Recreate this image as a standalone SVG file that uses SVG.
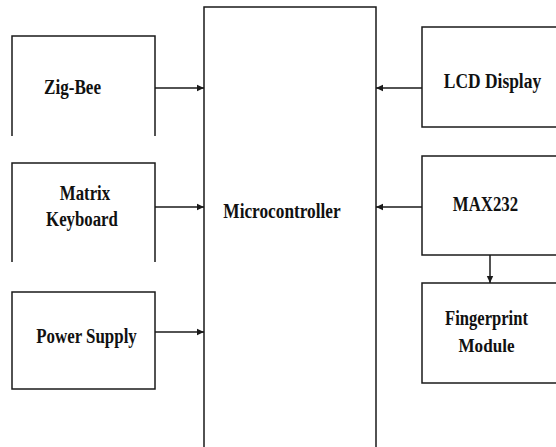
<svg xmlns="http://www.w3.org/2000/svg" width="556" height="447" viewBox="0 0 556 447">
<style>
.box{fill:none;stroke:#1a1a1a;stroke-width:1.5}
.conn{fill:none;stroke:#1a1a1a;stroke-width:1.5}
.lbl{font-family:'Liberation Serif','DejaVu Serif',serif;font-weight:700;font-size:21px;fill:#111;text-anchor:middle}
</style>
<defs>
<marker id="ah" markerWidth="8" markerHeight="8" refX="7" refY="4" orient="auto" markerUnits="userSpaceOnUse">
<path d="M0,0.8 L7,4 L0,7.2 Z" fill="#1a1a1a"/>
</marker>
</defs>
<rect width="556" height="447" fill="#fff"/>
<g id="zigbee">
<path class="box" d="M12,136 V36 H155 V136"/>
<text class="lbl" transform="translate(72.5,94) scale(0.815,1)">Zig-Bee</text>
</g>
<g id="keyboard">
<path class="box" d="M12,262 V163 H155 V262"/>
<text class="lbl" transform="translate(85,200) scale(0.8,1)">Matrix</text>
<text class="lbl" transform="translate(82,226) scale(0.8,1)">Keyboard</text>
</g>
<g id="power">
<rect class="box" x="12" y="292" width="143" height="97"/>
<text class="lbl" transform="translate(86.5,343) scale(0.805,1)">Power Supply</text>
</g>
<g id="mcu">
<path class="box" d="M204,450 V7 H376 V450"/>
<text class="lbl" transform="translate(282,218) scale(0.823,1)">Microcontroller</text>
</g>
<g id="lcd">
<rect class="box" x="422" y="27" width="140" height="100"/>
<text class="lbl" transform="translate(492.5,88) scale(0.83,1)">LCD Display</text>
</g>
<g id="max232">
<rect class="box" x="422" y="156" width="140" height="99"/>
<text class="lbl" transform="translate(485.5,211) scale(0.8,1)">MAX232</text>
</g>
<g id="fingerprint">
<rect class="box" x="422" y="283" width="140" height="100"/>
<text class="lbl" transform="translate(486.5,325) scale(0.79,1)">Fingerprint</text>
<text class="lbl" style="font-size:19px" transform="translate(486.5,352) scale(0.9,1)">Module</text>
</g>
<g id="connectors">
<line class="conn" x1="155" y1="88" x2="204" y2="88" marker-end="url(#ah)"/>
<line class="conn" x1="155" y1="207" x2="204" y2="207" marker-end="url(#ah)"/>
<line class="conn" x1="155" y1="332" x2="204" y2="332" marker-end="url(#ah)"/>
<line class="conn" x1="422" y1="88" x2="376" y2="88" marker-end="url(#ah)"/>
<line class="conn" x1="422" y1="207" x2="376" y2="207" marker-end="url(#ah)"/>
<line class="conn" x1="490" y1="255" x2="490" y2="283" marker-end="url(#ah)"/>
</g>
</svg>
